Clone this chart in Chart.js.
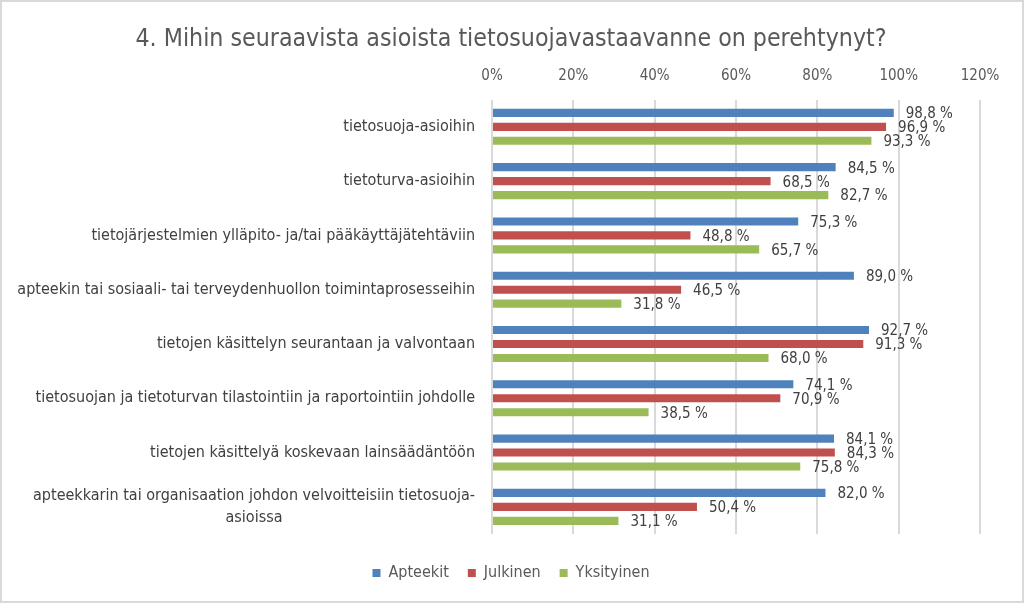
<!DOCTYPE html>
<html>
<head>
<meta charset="utf-8">
<script src="https://cdn.jsdelivr.net/npm/chart.js@4/dist/chart.umd.min.js"></script>
<style>
    html, body { margin: 0; padding: 0; background: #fff; }
    #wrap {
        width: 1020px; height: 599px;
        border: 2px solid #d9d9d9;
        position: relative;
    }
</style>
</head>
<body>
<div id="wrap"><canvas id="chart"></canvas></div>
<script>
const categories = [
    'tietosuoja-asioihin',
    'tietoturva-asioihin',
    'tietojärjestelmien ylläpito- ja/tai pääkäyttäjätehtäviin',
    'apteekin tai sosiaali- tai terveydenhuollon toimintaprosesseihin',
    'tietojen käsittelyn seurantaan ja valvontaan',
    'tietosuojan ja tietoturvan tilastointiin ja raportointiin johdolle',
    'tietojen käsittelyä koskevaan lainsäädäntöön',
    ['apteekkarin tai organisaation johdon velvoitteisiin tietosuoja-', 'asioissa']
];
const seriesNames = ['Apteekit', 'Julkinen', 'Yksityinen'];
const apteekit = [98.8, 84.5, 75.3, 89.0, 92.7, 74.1, 84.1, 82.0];
const julkinen = [96.9, 68.5, 48.8, 46.5, 91.3, 70.9, 84.3, 50.4];
const yksityinen = [93.3, 82.7, 65.7, 31.8, 68.0, 38.5, 75.8, 31.1];
const colors = ['#4f81bd', '#c0504d', '#9bbb59'];
const xTicks = [0, 20, 40, 60, 80, 100, 120];

const FONT = "'Liberation Sans Narrow', 'DejaVu Sans Condensed', 'Liberation Sans', sans-serif";
const TEXT = '#595959';

// draws "98,8 %" labels at the end of each bar
const valueLabels = {
    id: 'valueLabels',
    afterDatasetsDraw(chart) {
        const ctx = chart.ctx;
        ctx.save();
        ctx.font = `15px ${FONT}`;
        ctx.fillStyle = '#404040';
        ctx.textBaseline = 'middle';
        ctx.textAlign = 'left';
        chart.data.datasets.forEach((ds, i) => {
            chart.getDatasetMeta(i).data.forEach((bar, j) => {
                const txt = ds.data[j].toFixed(1).replace('.', ',') + ' %';
                ctx.fillText(txt, bar.x + 12, bar.y + 1.5);
            });
        });
        ctx.restore();
    }
};

// category labels: block right-aligned to the axis, lines centred inside the block (like Excel)
const categoryLabels = {
    id: 'categoryLabels',
    afterDraw(chart) {
        const ctx = chart.ctx;
        const y = chart.scales.y;
        const right = chart.chartArea.left - 17;
        ctx.save();
        ctx.font = `16px ${FONT}`;
        ctx.fillStyle = '#404040';
        ctx.textAlign = 'center';
        ctx.textBaseline = 'middle';
        chart.data.labels.forEach((label, i) => {
            const lines = Array.isArray(label) ? label : [label];
            const w = Math.max(...lines.map(l => ctx.measureText(l).width));
            const cx = right - w / 2;
            const cy = y.getPixelForTick(i);
            const lh = 22;
            lines.forEach((l, k) => {
                ctx.fillText(l, cx, cy + (k - (lines.length - 1) / 2) * lh);
            });
        });
        ctx.restore();
    }
};

new Chart(document.getElementById('chart'), {
    type: 'bar',
    data: {
        labels: categories,
        datasets: [apteekit, julkinen, yksityinen].map((values, i) => ({
            label: seriesNames[i],
            data: values,
            backgroundColor: colors[i],
            categoryPercentage: 0.772,
            barPercentage: 0.58
        }))
    },
    options: {
        indexAxis: 'y',
        responsive: true,
        maintainAspectRatio: false,
        animation: false,
        layout: { padding: { left: 40, right: 42, top: 12, bottom: 10 } },
        plugins: {
            title: {
                display: true,
                text: '4. Mihin seuraavista asioista tietosuojavastaavanne on perehtynyt?',
                color: TEXT,
                font: { family: FONT, size: 24.7, weight: 'normal', lineHeight: 1 },
                padding: { top: 13, bottom: 0 }
            },
            // empty spacer between the plot and the legend
            subtitle: {
                display: true,
                position: 'bottom',
                text: ' ',
                font: { size: 1, lineHeight: 1 },
                padding: { top: 0, bottom: 11 }
            },
            legend: {
                position: 'bottom',
                weight: 3000,
                labels: {
                    color: TEXT,
                    font: { family: FONT, size: 16 },
                    boxWidth: 8,
                    boxHeight: 8,
                    padding: 19
                }
            },
            tooltip: { enabled: false }
        },
        scales: {
            x: {
                position: 'top',
                min: 0,
                max: 120,
                afterBuildTicks: (scale) => { scale.ticks = xTicks.map(v => ({ value: v })); },
                ticks: {
                    color: TEXT,
                    font: { family: FONT, size: 15 },
                    padding: 15,
                    callback: (v) => v + '%'
                },
                grid: { color: '#d9d9d9', lineWidth: 2, drawTicks: false },
                border: { display: false }
            },
            y: {
                afterFit: (scale) => { scale.width = 450; },
                ticks: { display: false },
                grid: { display: false },
                border: { display: false }
            }
        }
    },
    plugins: [valueLabels, categoryLabels]
});
</script>
</body>
</html>
